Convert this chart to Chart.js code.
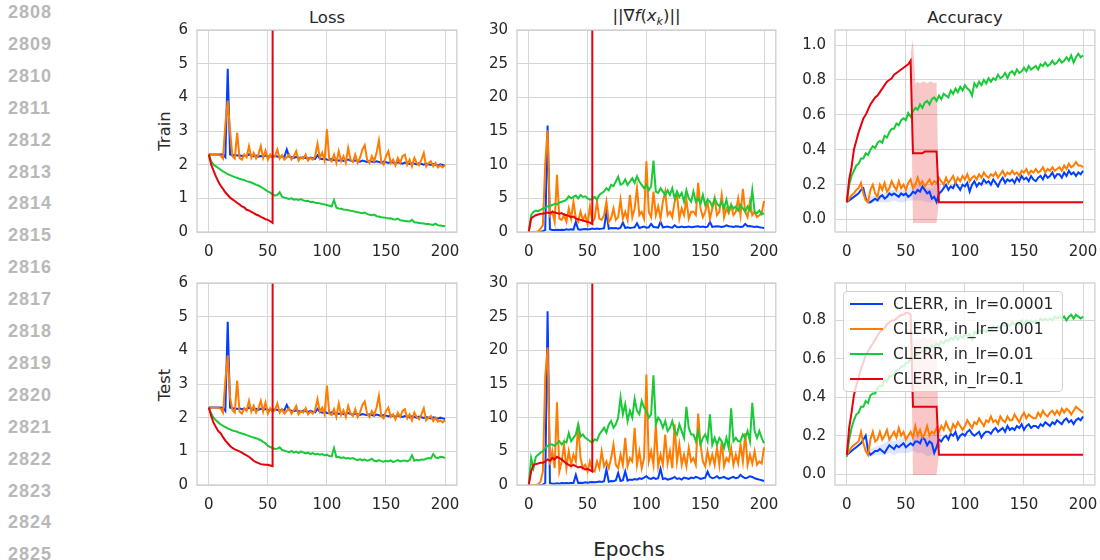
<!DOCTYPE html>
<html><head><meta charset="utf-8">
<script src="https://cdn.jsdelivr.net/npm/chart.js@4.4.1/dist/chart.umd.min.js"></script>
<style>
html,body{margin:0;padding:0;background:#fff;}
#root{position:relative;width:1100px;height:560px;overflow:hidden;font-family:"DejaVu Sans",sans-serif;color:#262626;}
.ln{position:absolute;left:8px;font-family:"Liberation Sans",Arial,sans-serif;font-weight:bold;font-size:18px;letter-spacing:1px;color:#b8b8b8;line-height:20px;}
.title{position:absolute;font-size:16.5px;line-height:20px;transform:translateX(-50%);white-space:nowrap;}
.rowlab{position:absolute;font-size:16.5px;line-height:20px;transform:translate(-50%,-50%) rotate(-90deg);white-space:nowrap;}
canvas{position:absolute;}
#legend{position:absolute;left:843px;top:291px;width:220px;height:101px;background:rgba(255,255,255,0.8);border:1px solid #cfcfcf;border-radius:4px;box-sizing:border-box;}
.lg{position:absolute;left:49px;font-size:15.5px;line-height:20px;white-space:nowrap;}
.lh{position:absolute;left:6px;width:33px;height:2px;}
</style></head>
<body><div id="root"></div>
<script>
// ---------------- data ----------------
const EPOCHS = Array.from({length:101},(_,i)=>i*2);   // 0,2,...,200
const RED_EPOCHS = EPOCHS.slice(0,29);                 // 0..56 (diverges at 54)
const BAND_EPOCHS = [54,56,58,60,62,64,66,68,70,72,74,76,78];
const BLUE_BAND_EPOCHS = [16,20,24,28,32,36,40,44,48,52,56,60,64,68,72,76,80];
const X_TICKS = [0,50,100,150,200];
const LOSS_TICKS = [0,1,2,3,4,5,6];
const GRAD_TICKS = [0,5,10,15,20,25,30];
const ACC_TR_TICKS = [0,0.2,0.4,0.6,0.8,1.0];
const ACC_TE_TICKS = [0,0.2,0.4,0.6,0.8];
const SERIES = ["CLERR, in_lr=0.0001","CLERR, in_lr=0.001","CLERR, in_lr=0.01","CLERR, in_lr=0.1"];
const COLORS = ["#023eff","#ff7c00","#1ac938","#e8000b"];

// Loss / Train
const LOSS_TR_B = [2.30,2.30,2.30,2.30,2.30,2.30,2.30,2.22,4.85,2.30,
 2.28,2.29,2.27,2.28,2.26,2.27,2.25,2.31,2.26,2.25,
 2.27,2.24,2.26,2.25,2.27,2.24,2.25,2.23,2.26,2.24,
 2.22,2.25,2.23,2.45,2.24,2.22,2.20,2.23,2.21,2.19,
 2.22,2.20,2.18,2.21,2.19,2.17,2.28,2.18,2.16,2.19,
 2.15,2.14,2.17,2.13,2.15,2.12,2.14,2.11,2.13,2.15,
 2.12,2.10,2.13,2.11,2.09,2.12,2.10,2.08,2.11,2.09,
 2.07,2.10,2.08,2.06,2.09,2.07,2.05,2.08,2.06,2.04,
 2.07,2.05,2.03,2.06,2.04,2.02,2.05,2.03,2.01,2.04,
 2.02,2.00,2.03,2.01,1.99,2.02,2.00,1.98,2.01,1.99,1.97];
const LOSS_TR_O = [2.30,2.30,2.30,2.30,2.29,2.27,2.18,3.20,3.90,3.00,
 2.25,2.18,2.95,2.20,2.15,2.30,2.22,2.55,2.20,2.35,
 2.18,2.30,2.55,2.20,2.42,2.15,2.30,2.20,2.25,2.45,
 2.18,2.28,2.15,2.22,2.30,2.15,2.25,2.40,2.12,2.22,
 2.18,2.30,2.12,2.20,2.15,2.25,2.62,2.20,2.35,2.12,
 3.05,2.15,2.10,2.30,2.05,2.40,2.10,2.25,2.05,2.50,
 2.15,2.08,2.30,2.05,2.20,2.45,2.58,2.15,2.05,2.25,
 2.10,2.35,2.72,2.08,2.00,2.25,2.40,2.05,2.15,1.98,
 2.20,2.05,2.25,2.30,2.00,2.15,1.95,2.20,2.05,1.98,
 2.15,2.35,1.95,2.05,2.10,1.95,2.05,1.92,1.98,1.92,2.00];
const LOSS_TR_G = [2.30,2.10,2.00,1.95,1.90,1.85,1.80,1.76,1.72,1.69,
 1.66,1.63,1.61,1.58,1.56,1.54,1.51,1.49,1.47,1.44,
 1.40,1.38,1.34,1.30,1.25,1.21,1.17,1.12,1.08,1.10,
 1.18,1.05,1.02,1.00,0.98,1.00,0.96,0.97,0.95,0.98,
 0.94,0.92,0.93,0.89,0.90,0.87,0.86,0.85,0.83,0.82,
 0.80,0.78,0.76,0.95,0.72,0.70,0.69,0.67,0.66,0.65,
 0.63,0.62,0.60,0.59,0.57,0.56,0.58,0.54,0.51,0.50,
 0.52,0.47,0.46,0.44,0.43,0.42,0.40,0.41,0.38,0.37,
 0.40,0.35,0.34,0.33,0.32,0.31,0.36,0.29,0.28,0.27,
 0.26,0.25,0.24,0.24,0.22,0.21,0.25,0.20,0.19,0.18,0.17];
const LOSS_TR_R = [2.30,2.00,1.82,1.65,1.50,1.38,1.28,1.18,1.10,1.02,
 0.97,0.92,0.86,0.82,0.76,0.73,0.66,0.64,0.60,0.56,
 0.52,0.49,0.45,0.42,0.38,0.36,0.32,0.27,500];

// Loss / Test
const LOSS_TE_B = [2.30,2.30,2.30,2.30,2.30,2.30,2.29,2.20,4.85,2.30,
 2.27,2.28,2.26,2.28,2.25,2.27,2.24,2.30,2.26,2.24,
 2.26,2.23,2.27,2.24,2.26,2.23,2.24,2.22,2.25,2.23,
 2.21,2.24,2.22,2.38,2.23,2.21,2.19,2.22,2.20,2.18,
 2.21,2.19,2.17,2.20,2.18,2.16,2.26,2.17,2.15,2.18,
 2.14,2.13,2.16,2.12,2.14,2.11,2.13,2.10,2.12,2.14,
 2.11,2.09,2.12,2.10,2.08,2.11,2.09,2.07,2.10,2.08,
 2.06,2.09,2.07,2.05,2.08,2.06,2.04,2.07,2.05,2.03,
 2.06,2.04,2.02,2.05,2.03,2.01,2.04,2.02,2.00,2.03,
 2.01,1.99,2.02,2.00,1.98,2.01,1.99,1.97,2.00,1.98,1.96];
const LOSS_TE_O = [2.30,2.30,2.30,2.30,2.29,2.27,2.15,3.10,3.85,2.60,
 2.22,2.15,3.10,2.18,2.12,2.28,2.20,2.50,2.18,2.35,
 2.15,2.28,2.50,2.18,2.45,2.12,2.28,2.18,2.22,2.42,
 2.15,2.25,2.12,2.20,2.28,2.12,2.22,2.35,2.10,2.20,
 2.15,2.28,2.10,2.18,2.12,2.22,2.55,2.18,2.30,2.10,
 2.95,2.12,2.08,2.25,2.02,2.42,2.08,2.22,2.02,2.35,
 2.12,2.05,2.25,2.02,2.15,2.38,2.48,2.12,2.02,2.20,
 2.08,2.30,2.65,2.05,1.98,2.20,2.30,2.02,2.10,1.95,
 2.15,2.02,2.20,2.25,1.98,2.10,1.92,2.15,2.02,1.95,
 2.10,2.28,1.92,2.00,2.05,1.90,2.00,1.88,1.92,1.86,1.92];
const LOSS_TE_G = [2.30,2.12,2.00,1.92,1.86,1.80,1.76,1.72,1.68,1.65,
 1.62,1.60,1.58,1.55,1.53,1.51,1.48,1.46,1.43,1.41,
 1.39,1.36,1.33,1.28,1.24,1.16,1.13,1.10,1.07,1.08,
 1.12,1.04,1.02,1.00,0.97,1.01,0.96,0.99,0.95,1.00,
 0.97,0.94,0.96,0.92,0.95,0.91,0.93,0.90,0.92,0.88,
 0.90,0.86,0.85,1.10,0.83,0.84,0.80,0.82,0.79,0.80,
 0.78,0.80,0.76,0.74,0.77,0.73,0.76,0.72,0.74,0.78,
 0.72,0.70,0.74,0.71,0.69,0.72,0.70,0.73,0.68,0.71,
 0.74,0.70,0.72,0.73,0.70,0.74,0.88,0.72,0.75,0.73,
 0.76,0.75,0.78,0.80,0.79,0.92,0.82,0.80,0.84,0.83,0.80];
const LOSS_TE_R = [2.30,2.05,1.85,1.72,1.60,1.54,1.42,1.32,1.24,1.16,
 1.10,1.06,1.03,1.00,0.96,0.92,0.88,0.84,0.78,0.72,
 0.68,0.65,0.62,0.61,0.60,0.60,0.58,0.56,500];

// Gradient norm / Train
const GRAD_TR_B = [0,0,0,0,0,0.05,0.1,0.3,15.8,0.4,
 0.3,0.3,0.35,0.3,0.35,0.3,0.4,0.35,0.4,0.35,
 1.5,0.4,0.35,0.4,0.45,0.4,0.4,0.5,0.45,0.5,
 0.45,0.5,0.55,3.0,0.5,0.6,0.55,0.6,0.5,0.65,
 1.4,0.6,0.7,0.6,0.65,0.7,1.3,0.6,0.7,0.8,
 0.65,0.7,1.2,0.75,0.7,0.65,1.5,0.7,0.75,0.8,
 0.7,0.65,1.0,0.75,0.7,0.8,0.7,0.75,0.8,0.7,
 0.75,0.8,0.85,0.75,0.8,0.7,0.8,1.5,0.75,0.8,
 0.85,0.8,0.75,0.8,1.0,0.85,0.8,0.75,0.85,0.8,
 0.75,0.8,1.2,0.85,0.9,0.8,0.75,0.8,0.7,0.65,0.6];
const GRAD_TR_O = [0,0,0,0,0.1,0.5,1.0,10.2,15.1,2.5,
 3.0,1.5,8.5,2.0,1.8,2.5,1.5,3.5,2.0,4.5,
 2.0,1.5,3.0,1.8,2.5,1.2,3.8,1.5,2.0,4.5,
 2.0,1.8,2.5,4.5,1.5,2.0,3.5,1.8,2.2,4.8,
 2.0,3.0,1.8,5.5,2.2,3.5,6.5,2.5,3.0,2.0,
 10.5,3.0,2.2,6.0,2.5,3.8,2.0,4.5,6.0,2.5,
 3.0,2.2,4.5,5.5,2.0,3.5,2.5,4.8,2.0,3.0,
 3.0,2.5,7.3,3.5,2.2,3.0,4.5,2.0,3.5,5.0,
 2.5,3.0,5.5,2.2,3.5,2.8,4.0,2.5,3.0,5.0,
 2.5,6.4,3.0,2.2,4.5,2.5,3.0,2.2,2.5,2.8,4.6];
const GRAD_TR_G = [0,2.5,3.0,3.2,3.1,3.3,3.5,3.6,3.8,3.9,
 4.0,4.2,4.1,4.4,4.5,4.6,4.8,5.3,5.0,5.2,
 5.4,5.0,5.5,5.2,5.3,5.0,4.8,4.9,5.2,4.8,
 5.5,5.8,6.0,6.5,6.2,7.0,6.8,7.5,8.2,7.0,
 7.2,7.8,7.0,7.5,8.0,7.3,8.3,7.5,7.0,6.5,
 7.0,6.2,6.8,10.6,6.0,5.8,6.5,6.0,5.5,6.2,
 5.5,6.5,5.0,6.0,5.2,5.8,4.5,6.2,5.0,4.5,
 6.0,4.5,5.0,4.2,5.5,4.0,4.8,4.5,3.8,5.0,
 4.2,3.8,4.5,3.5,4.8,3.2,4.0,3.5,3.8,3.2,
 4.0,3.5,3.0,3.8,3.2,6.2,3.0,2.8,3.2,2.6,2.8];
const GRAD_TR_R = [0,2.0,2.3,2.5,2.6,2.7,2.7,2.8,2.9,2.8,
 3.0,2.9,2.8,2.7,2.8,2.6,2.5,2.4,2.2,2.3,
 2.0,1.9,1.8,1.7,1.6,1.5,1.4,1.2,5000];

// Gradient norm / Test
const GRAD_TE_B = [0,0,0,0,0,0,0.05,0.3,25.8,0.3,
 0.2,0.2,0.25,0.2,0.3,0.25,0.3,0.25,0.3,0.3,
 1.5,0.3,0.35,0.3,0.4,0.35,0.4,0.45,0.4,0.45,
 0.5,0.45,0.55,2.3,0.5,0.6,0.55,0.7,1.8,0.6,
 0.7,2.0,0.65,0.8,0.75,0.9,0.8,1.0,0.9,1.1,
 1.3,1.0,0.9,1.1,0.9,1.0,2.4,0.9,1.0,0.8,
 0.9,1.0,1.2,0.9,1.0,0.8,1.1,1.0,0.9,1.1,
 1.0,1.2,1.1,0.9,1.0,1.1,2.0,1.2,1.0,1.1,
 1.3,1.0,1.1,1.2,1.0,0.9,1.1,1.2,1.0,1.1,
 1.5,1.2,1.0,1.1,1.3,1.2,1.0,0.9,0.8,0.7,0.6];
const GRAD_TE_O = [0,0,0,0,0.1,0.5,2.0,16.1,20.4,3.0,
 5.0,2.5,12.3,2.0,3.5,6.0,2.5,5.0,3.0,4.5,
 3.5,9.1,4.0,2.5,3.0,2.0,3.5,2.2,2.0,3.5,
 2.5,5.0,2.8,3.5,2.5,4.0,6.0,3.0,2.5,4.5,
 3.0,7.0,2.8,4.0,3.5,8.5,3.0,5.0,2.5,4.0,
 16.4,3.5,5.0,3.0,9.0,2.8,4.5,3.0,7.5,3.2,
 5.0,2.5,9.0,3.5,6.0,3.0,4.5,2.8,5.5,3.5,
 4.0,3.0,10.6,6.0,3.5,2.8,5.0,3.2,4.5,3.0,
 5.5,3.0,6.5,2.8,4.0,3.5,5.5,3.0,4.5,3.2,
 6.0,3.5,7.7,3.0,4.5,3.2,5.0,3.0,3.5,3.2,5.6];
const GRAD_TE_G = [0,4.0,2.5,4.2,4.5,4.8,5.0,5.5,5.8,6.0,
 6.0,5.8,6.2,6.5,6.0,6.5,6.3,7.7,6.5,7.0,
 7.5,9.0,7.2,7.5,7.0,6.8,6.5,6.3,6.8,6.6,
 7.5,8.0,8.5,7.8,9.0,9.5,8.5,9.0,10.0,13.0,
 10.5,12.0,9.5,11.0,10.0,12.8,11.0,10.5,12.5,11.5,
 11.0,10.0,10.5,16.3,9.0,10.0,9.5,8.5,9.5,8.0,
 8.5,9.5,8.0,7.5,9.0,8.0,7.0,11.6,8.5,7.5,
 7.5,6.5,8.0,6.0,7.0,7.5,6.5,10.5,6.0,7.0,
 6.0,7.0,6.5,5.5,7.0,5.5,11.4,6.5,7.0,6.5,
 6.5,7.5,7.0,8.0,6.5,12.2,8.0,7.0,8.0,7.0,6.2];
const GRAD_TE_R = [0,2.0,3.0,3.1,3.2,3.3,3.3,3.5,3.8,3.6,
 4.0,3.8,4.2,4.0,3.8,3.5,3.2,3.0,2.8,3.0,
 2.8,2.6,2.7,2.5,2.3,2.4,2.2,2.0,5000];

// Accuracy / Train
const ACC_TR_B = [0.10,0.11,0.12,0.13,0.14,0.15,0.17,0.18,0.12,0.10,
 0.10,0.11,0.12,0.11,0.13,0.14,0.12,0.13,0.15,0.14,
 0.15,0.14,0.13,0.15,0.14,0.15,0.13,0.14,0.16,0.15,
 0.17,0.16,0.19,0.17,0.15,0.16,0.12,0.13,0.10,0.15,
 0.16,0.18,0.20,0.17,0.19,0.18,0.21,0.19,0.17,0.20,
 0.19,0.21,0.16,0.20,0.22,0.19,0.21,0.20,0.23,0.21,
 0.22,0.20,0.23,0.21,0.19,0.22,0.24,0.21,0.23,0.22,
 0.23,0.21,0.24,0.22,0.25,0.23,0.24,0.22,0.25,0.23,
 0.22,0.24,0.25,0.23,0.26,0.24,0.25,0.27,0.24,0.26,
 0.26,0.24,0.27,0.25,0.28,0.26,0.27,0.25,0.27,0.26,0.28];
const ACC_TR_B_LO = [0.10,0.09,0.10,0.10,0.10,0.10,0.11,0.10,0.10,0.11,0.11,0.11,0.11,0.10,0.10,0.12,0.14];
const ACC_TR_B_HI = [0.15,0.13,0.14,0.15,0.15,0.17,0.17,0.17,0.17,0.18,0.21,0.20,0.19,0.18,0.18,0.21,0.21];
const ACC_TR_O = [0.10,0.12,0.14,0.15,0.17,0.18,0.21,0.15,0.11,0.10,
 0.17,0.20,0.15,0.13,0.20,0.17,0.21,0.16,0.18,0.22,
 0.19,0.17,0.22,0.18,0.20,0.17,0.21,0.23,0.18,0.20,
 0.24,0.20,0.22,0.19,0.21,0.23,0.20,0.22,0.21,0.24,
 0.22,0.20,0.24,0.21,0.23,0.25,0.21,0.24,0.22,0.25,
 0.23,0.26,0.22,0.24,0.25,0.23,0.26,0.24,0.27,0.25,
 0.24,0.26,0.25,0.27,0.24,0.26,0.28,0.25,0.27,0.26,
 0.28,0.26,0.27,0.25,0.28,0.27,0.29,0.26,0.28,0.27,
 0.29,0.27,0.28,0.30,0.27,0.29,0.28,0.30,0.28,0.29,
 0.30,0.28,0.31,0.29,0.32,0.30,0.31,0.33,0.31,0.31,0.30];
const ACC_TR_G = [0.10,0.20,0.25,0.28,0.31,0.32,0.35,0.35,0.38,0.37,
 0.40,0.42,0.41,0.44,0.45,0.44,0.48,0.47,0.50,0.52,
 0.52,0.55,0.54,0.57,0.58,0.57,0.61,0.59,0.62,0.64,
 0.63,0.66,0.64,0.67,0.68,0.66,0.69,0.70,0.68,0.71,
 0.69,0.72,0.71,0.70,0.74,0.72,0.75,0.73,0.76,0.74,
 0.77,0.75,0.74,0.71,0.78,0.76,0.79,0.77,0.80,0.78,
 0.81,0.79,0.81,0.80,0.83,0.81,0.82,0.84,0.81,0.84,
 0.85,0.83,0.86,0.84,0.85,0.87,0.85,0.88,0.86,0.87,
 0.88,0.86,0.89,0.88,0.90,0.88,0.89,0.91,0.89,0.90,
 0.92,0.90,0.91,0.93,0.91,0.94,0.90,0.93,0.95,0.93,0.94];
const ACC_TR_R = [0.10,0.23,0.30,0.40,0.45,0.50,0.54,0.58,0.60,0.63,
 0.66,0.68,0.70,0.71,0.73,0.75,0.77,0.79,0.80,0.81,
 0.83,0.84,0.85,0.86,0.87,0.88,0.89,0.91,0.38,0.38,
 0.38,0.38,0.38,0.39,0.39,0.39,0.39,0.39,0.39,0.10,
 0.10,0.10,0.10,0.10,0.10,0.10,0.10,0.10,0.10,0.10,
 0.10,0.10,0.10,0.10,0.10,0.10,0.10,0.10,0.10,0.10,
 0.10,0.10,0.10,0.10,0.10,0.10,0.10,0.10,0.10,0.10,
 0.10,0.10,0.10,0.10,0.10,0.10,0.10,0.10,0.10,0.10,
 0.10,0.10,0.10,0.10,0.10,0.10,0.10,0.10,0.10,0.10,
 0.10,0.10,0.10,0.10,0.10,0.10,0.10,0.10,0.10,0.10,0.10];
const ACC_TR_R_LO = [0.86,-0.02,-0.02,-0.02,-0.02,-0.02,-0.02,-0.02,-0.02,-0.02,-0.02,-0.02,0.10];
const ACC_TR_R_HI = [0.95,1.03,0.78,0.79,0.78,0.79,0.79,0.78,0.79,0.79,0.78,0.79,0.10];

// Accuracy / Test
const ACC_TE_B = [0.10,0.11,0.12,0.13,0.14,0.15,0.16,0.18,0.20,0.12,
 0.10,0.11,0.12,0.12,0.13,0.12,0.11,0.13,0.15,0.14,
 0.13,0.15,0.14,0.15,0.16,0.14,0.15,0.16,0.15,0.17,
 0.17,0.16,0.19,0.18,0.15,0.17,0.16,0.11,0.14,0.18,
 0.17,0.19,0.20,0.18,0.21,0.20,0.22,0.18,0.20,0.21,
 0.20,0.22,0.23,0.21,0.20,0.21,0.22,0.19,0.21,0.22,
 0.22,0.21,0.23,0.24,0.22,0.23,0.24,0.22,0.25,0.23,
 0.24,0.23,0.25,0.24,0.26,0.23,0.25,0.26,0.24,0.25,
 0.25,0.24,0.26,0.25,0.27,0.26,0.25,0.27,0.26,0.28,
 0.27,0.26,0.28,0.29,0.27,0.28,0.26,0.28,0.29,0.28,0.30];
const ACC_TE_B_LO = [0.10,0.09,0.10,0.10,0.10,0.11,0.10,0.11,0.11,0.11,0.12,0.11,0.11,0.09,0.10,0.13,0.14];
const ACC_TE_B_HI = [0.20,0.13,0.14,0.15,0.16,0.18,0.17,0.18,0.19,0.19,0.21,0.21,0.20,0.19,0.20,0.21,0.22];
const ACC_TE_O = [0.10,0.12,0.14,0.15,0.16,0.17,0.22,0.16,0.12,0.10,
 0.18,0.22,0.17,0.18,0.22,0.18,0.20,0.23,0.18,0.20,
 0.22,0.19,0.24,0.20,0.22,0.18,0.20,0.22,0.19,0.25,
 0.20,0.23,0.19,0.21,0.25,0.20,0.22,0.21,0.24,0.22,
 0.25,0.23,0.27,0.24,0.22,0.26,0.24,0.27,0.25,0.23,
 0.25,0.28,0.26,0.24,0.27,0.26,0.29,0.27,0.25,0.28,
 0.27,0.30,0.27,0.28,0.26,0.30,0.28,0.27,0.30,0.28,
 0.28,0.31,0.29,0.27,0.30,0.32,0.29,0.31,0.30,0.29,
 0.29,0.32,0.30,0.33,0.31,0.30,0.32,0.33,0.31,0.33,
 0.31,0.34,0.32,0.34,0.33,0.31,0.33,0.35,0.34,0.33,0.32];
const ACC_TE_G = [0.09,0.18,0.24,0.28,0.31,0.32,0.35,0.35,0.38,0.37,
 0.41,0.42,0.42,0.45,0.46,0.46,0.49,0.48,0.51,0.51,
 0.52,0.54,0.54,0.56,0.56,0.58,0.58,0.60,0.60,0.62,
 0.62,0.63,0.64,0.64,0.66,0.65,0.67,0.66,0.68,0.67,
 0.69,0.68,0.70,0.69,0.71,0.70,0.72,0.70,0.72,0.71,
 0.73,0.72,0.73,0.70,0.74,0.73,0.75,0.74,0.75,0.74,
 0.76,0.75,0.77,0.76,0.77,0.76,0.78,0.77,0.78,0.77,
 0.79,0.78,0.79,0.78,0.80,0.78,0.80,0.79,0.80,0.79,
 0.80,0.79,0.81,0.80,0.81,0.80,0.81,0.80,0.82,0.81,
 0.82,0.81,0.82,0.80,0.82,0.83,0.81,0.83,0.82,0.81,0.82];
const ACC_TE_R = [0.10,0.24,0.32,0.41,0.46,0.50,0.55,0.58,0.62,0.64,
 0.66,0.68,0.70,0.72,0.74,0.75,0.76,0.78,0.79,0.80,
 0.80,0.81,0.82,0.83,0.83,0.84,0.84,0.83,0.35,0.35,
 0.35,0.35,0.35,0.35,0.35,0.35,0.35,0.35,0.35,0.10,
 0.10,0.10,0.10,0.10,0.10,0.10,0.10,0.10,0.10,0.10,
 0.10,0.10,0.10,0.10,0.10,0.10,0.10,0.10,0.10,0.10,
 0.10,0.10,0.10,0.10,0.10,0.10,0.10,0.10,0.10,0.10,
 0.10,0.10,0.10,0.10,0.10,0.10,0.10,0.10,0.10,0.10,
 0.10,0.10,0.10,0.10,0.10,0.10,0.10,0.10,0.10,0.10,
 0.10,0.10,0.10,0.10,0.10,0.10,0.10,0.10,0.10,0.10,0.10];
const ACC_TE_R_LO = [0.84,-0.005,-0.005,-0.005,-0.005,-0.005,-0.005,-0.005,-0.005,-0.005,-0.005,-0.005,0.10];
const ACC_TE_R_HI = [0.85,0.71,0.70,0.71,0.70,0.71,0.71,0.70,0.71,0.71,0.70,0.71,0.10];

// ---------------- page ----------------
const root = document.getElementById('root');
function addDiv(cls, html, style){ const d=document.createElement('div'); d.className=cls; d.innerHTML=html; Object.assign(d.style, style); root.appendChild(d); return d; }

for (let i=0;i<18;i++) addDiv('ln', String(2808+i), {top:(12 + i*31.9 - 10)+'px'});

addDiv('title','Loss',{left:'327px',top:'8px'});
addDiv('title','||∇<i>f</i>(<i>x</i><sub style="font-size:11px;font-style:italic">k</sub>)||',{left:'646.5px',top:'6px'});
addDiv('title','Accuracy',{left:'965px',top:'8px'});
addDiv('rowlab','Train',{left:'164.5px',top:'131px'});
addDiv('rowlab','Test',{left:'164.5px',top:'384.5px'});
addDiv('title','Epochs',{left:'629px',top:'538px',fontSize:'20px',lineHeight:'22px'});

const framePlugin = {id:'frame', afterDraw(c){const a=c.chartArea, x=c.ctx; x.save(); x.strokeStyle='#cccccc'; x.lineWidth=1.25; x.strokeRect(a.left, a.top, a.right-a.left, a.bottom-a.top); x.restore();}};

const pts = (xs, ys) => ys.map((y,i)=>({x:xs[i], y}));
function line(ys, ci, xs){ return {data:pts(xs||EPOCHS, ys), borderColor:COLORS[ci], borderWidth:2, pointRadius:0, fill:false, tension:0, order:3-ci}; }
function band(xs, lo, hi, color){ return [
  {data:pts(xs, lo), borderWidth:0, pointRadius:0, fill:false, order:10, borderColor:'rgba(0,0,0,0)'},
  {data:pts(xs, hi), borderWidth:0, pointRadius:0, fill:'-1', order:10, borderColor:'rgba(0,0,0,0)', backgroundColor:color}
];}

function config(yMin, yMax, yTicks, fmt, datasets){
  const tickFont={family:'DejaVu Sans', size:15};
  return {type:'line', data:{datasets},
    options:{responsive:false, maintainAspectRatio:false, animation:false, devicePixelRatio:1,
      layout:{padding:{left:0,top:10,right:14,bottom:0}, autoPadding:false},
      plugins:{legend:{display:false}, tooltip:{enabled:false}},
      scales:{
        x:{type:'linear', min:-10, max:210,
          afterBuildTicks:s=>{s.ticks=X_TICKS.map(v=>({value:v}));},
          afterFit:s=>{s.height=34;},
          grid:{color:'#d6d6d6', lineWidth:1, drawTicks:false}, border:{display:false},
          ticks:{padding:11, color:'#262626', font:tickFont, maxRotation:0, autoSkip:false}},
        y:{type:'linear', min:yMin, max:yMax,
          afterBuildTicks:s=>{s.ticks=yTicks.map(v=>({value:v}));},
          afterFit:s=>{s.width=60;},
          grid:{color:'#d6d6d6', lineWidth:1, drawTicks:false}, border:{display:false},
          ticks:{padding:9, color:'#262626', font:tickFont, autoSkip:false, callback:v=>fmt(v)}}
      }},
    plugins:[framePlugin]};
}
function panel(fr, yMin, yMax, yTicks, fmt, datasets){
  // first pass: measure where Chart.js puts the plot area, then size canvas so the plot area matches the frame
  let cv=document.createElement('canvas');
  cv.width=fr.w+74; cv.height=fr.h+44;
  cv.style.left='0px'; cv.style.top='0px';
  root.appendChild(cv);
  let ch=new Chart(cv, config(yMin,yMax,yTicks,fmt,datasets));
  let a=ch.chartArea;
  const extraL=a.left, extraT=a.top, extraR=cv.width-a.right, extraB=cv.height-a.bottom;
  ch.destroy(); cv.remove();
  cv=document.createElement('canvas');
  cv.width=fr.w+extraL+extraR; cv.height=fr.h+extraT+extraB;
  root.appendChild(cv);
  ch=new Chart(cv, config(yMin,yMax,yTicks,fmt,datasets));
  a=ch.chartArea;
  cv.style.left=(fr.l-a.left)+'px'; cv.style.top=(fr.t-a.top)+'px';
}
const fInt = v=>String(Math.round(v));
const fAcc = v=>v.toFixed(1);
const PINK='rgba(232,0,11,0.22)', LBLUE='rgba(2,62,255,0.13)';

panel({l:197,t:30,w:260,h:202}, 0, 6, LOSS_TICKS, fInt,
  [line(LOSS_TR_B,0), line(LOSS_TR_O,1), line(LOSS_TR_G,2), line(LOSS_TR_R,3,RED_EPOCHS)]);
panel({l:517,t:30,w:259,h:202}, 0, 30, GRAD_TICKS, fInt,
  [line(GRAD_TR_B,0), line(GRAD_TR_O,1), line(GRAD_TR_G,2), line(GRAD_TR_R,3,RED_EPOCHS)]);
panel({l:835,t:30,w:260,h:202}, -0.071, 1.086, ACC_TR_TICKS, fAcc,
  [...band(BAND_EPOCHS, ACC_TR_R_LO, ACC_TR_R_HI, PINK), ...band(BLUE_BAND_EPOCHS, ACC_TR_B_LO, ACC_TR_B_HI, LBLUE),
   line(ACC_TR_B,0), line(ACC_TR_O,1), line(ACC_TR_G,2), line(ACC_TR_R,3)]);
panel({l:197,t:283,w:260,h:202}, 0, 6, LOSS_TICKS, fInt,
  [line(LOSS_TE_B,0), line(LOSS_TE_O,1), line(LOSS_TE_G,2), line(LOSS_TE_R,3,RED_EPOCHS)]);
panel({l:517,t:283,w:259,h:202}, 0, 30, GRAD_TICKS, fInt,
  [line(GRAD_TE_B,0), line(GRAD_TE_O,1), line(GRAD_TE_G,2), line(GRAD_TE_R,3,RED_EPOCHS)]);
panel({l:835,t:283,w:260,h:202}, -0.057, 0.995, ACC_TE_TICKS, fAcc,
  [...band(BAND_EPOCHS, ACC_TE_R_LO, ACC_TE_R_HI, PINK), ...band(BLUE_BAND_EPOCHS, ACC_TE_B_LO, ACC_TE_B_HI, LBLUE),
   line(ACC_TE_B,0), line(ACC_TE_O,1), line(ACC_TE_G,2), line(ACC_TE_R,3)]);

// legend (inside the bottom-right axes)
const lg=document.createElement('div'); lg.id='legend'; root.appendChild(lg);
SERIES.forEach((s,i)=>{
  const cy=12+i*25;
  const h=document.createElement('div'); h.className='lh'; h.style.top=(cy-1)+'px'; h.style.background=COLORS[i]; lg.appendChild(h);
  const t=document.createElement('div'); t.className='lg'; t.style.top=(cy-10)+'px'; t.textContent=s; lg.appendChild(t);
});
</script>
</body></html>
